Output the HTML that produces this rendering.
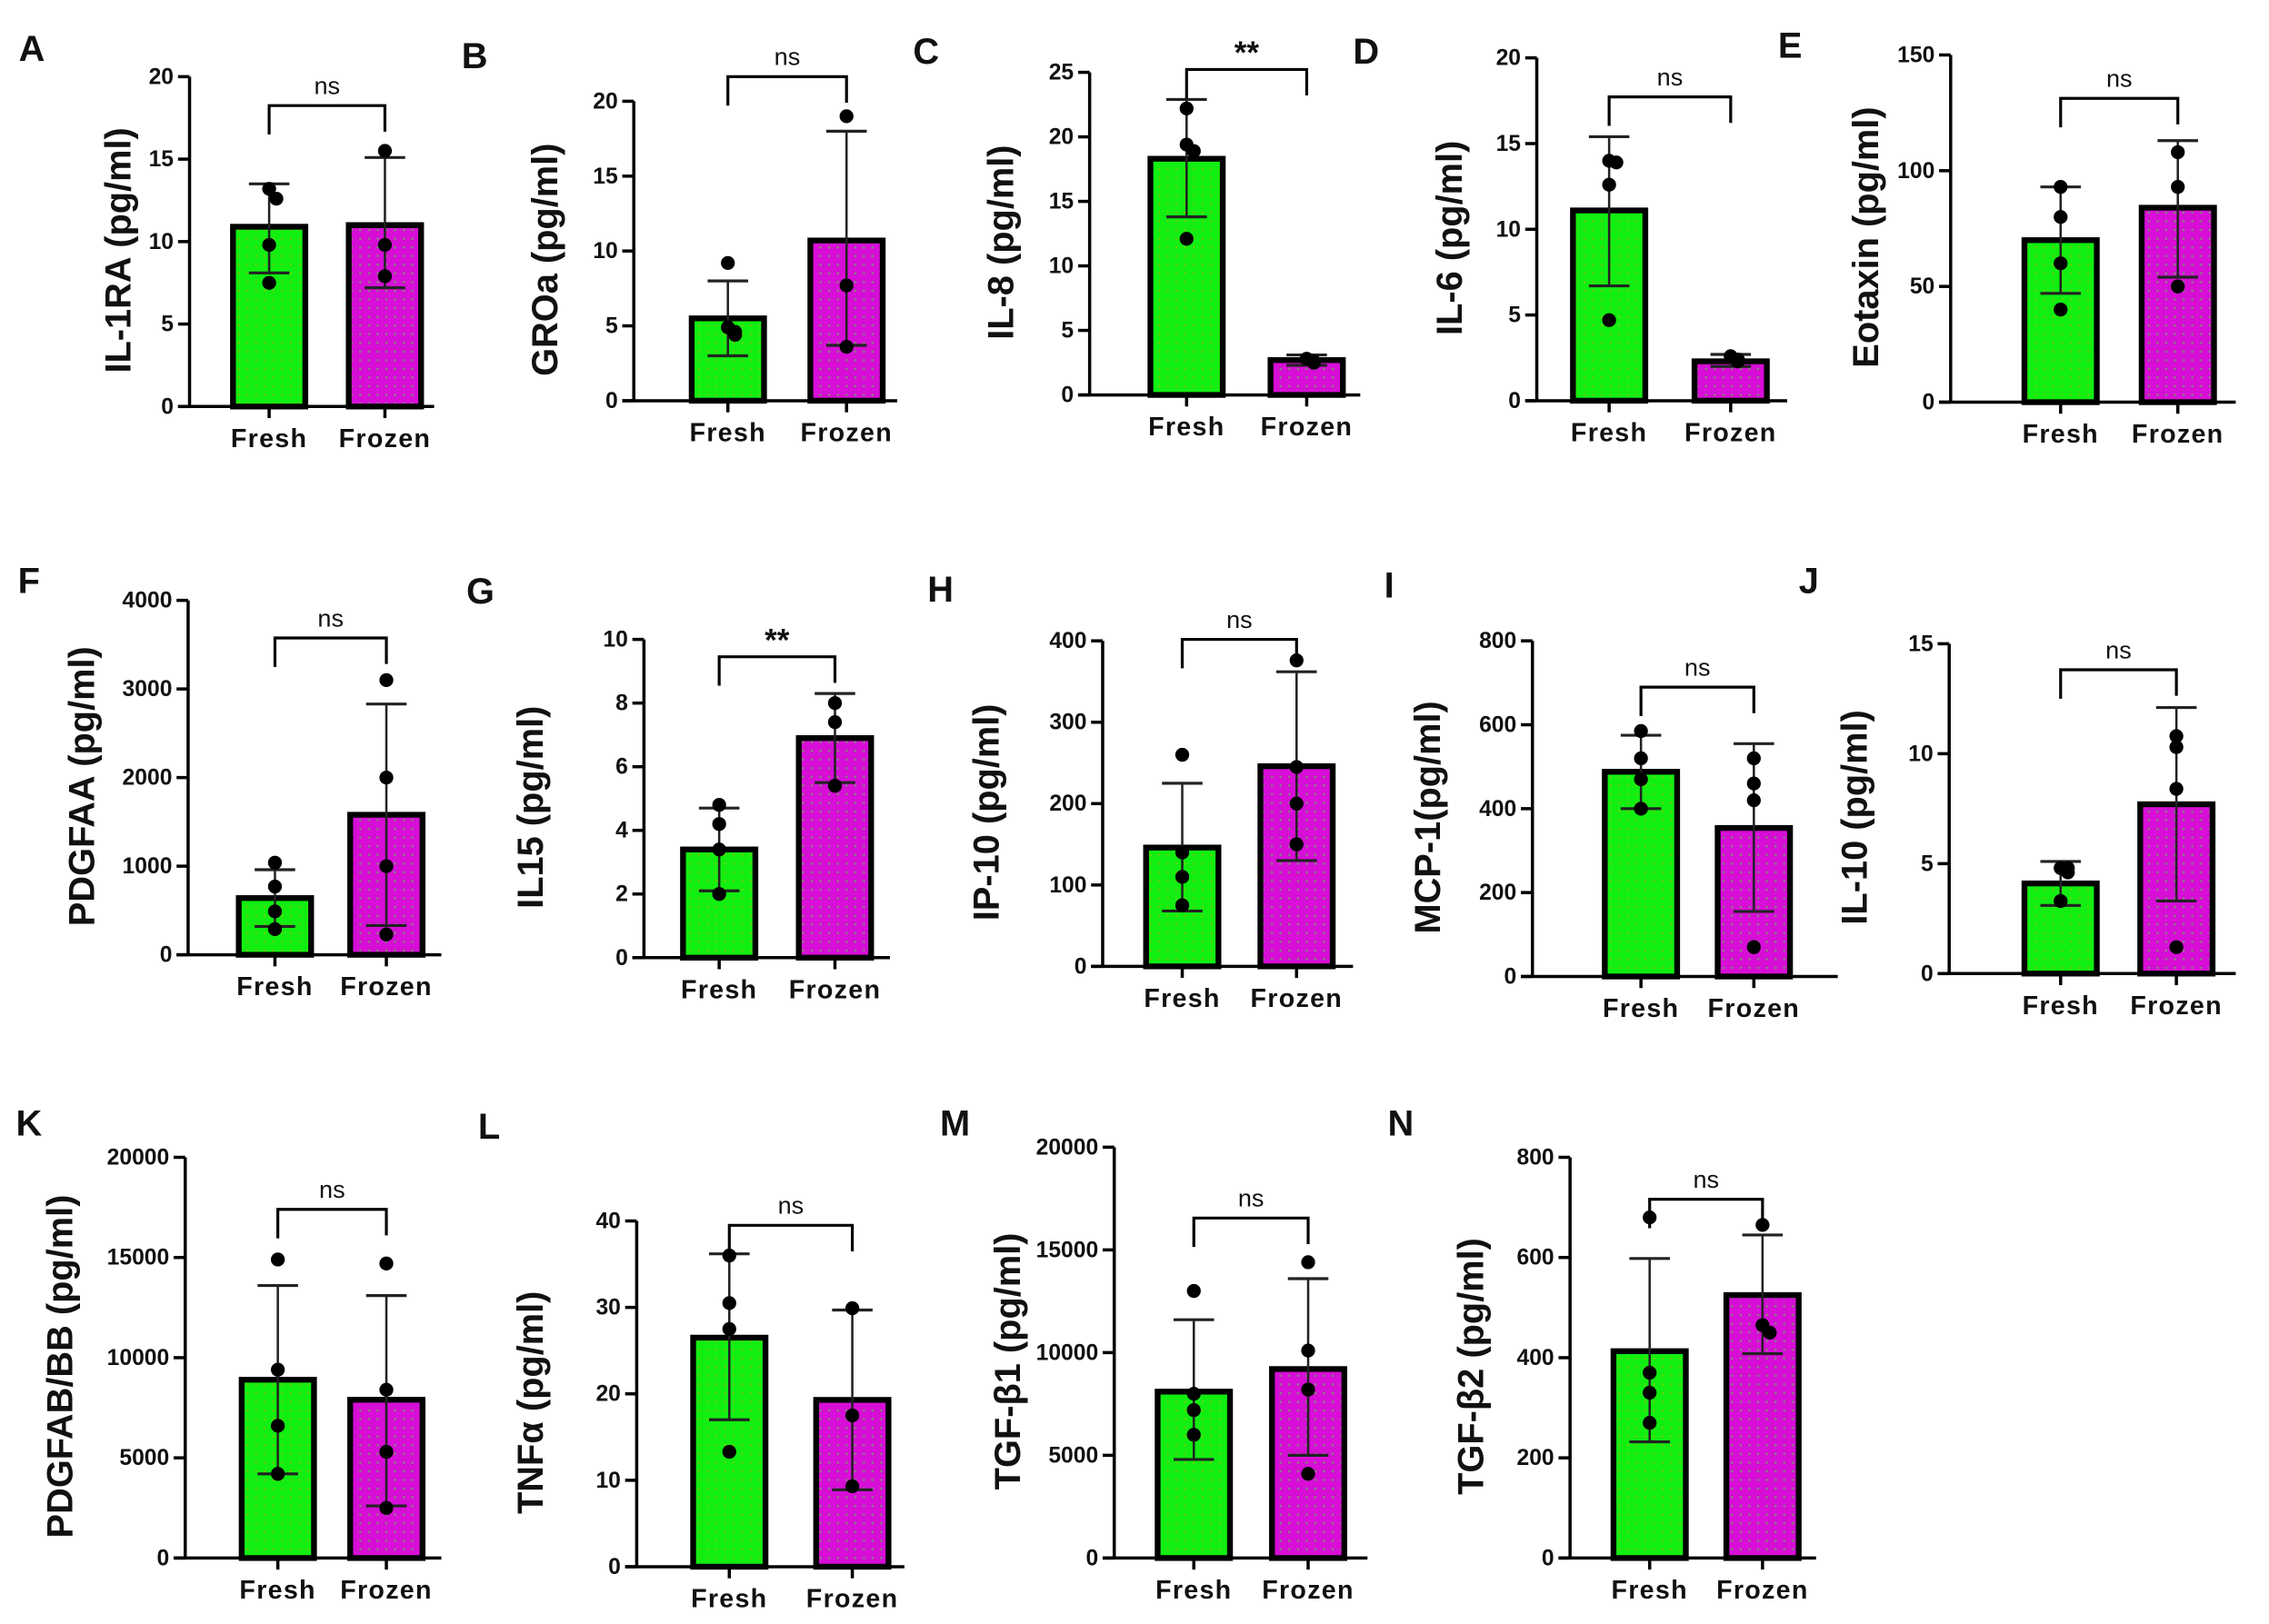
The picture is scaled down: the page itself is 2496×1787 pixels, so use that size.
<!DOCTYPE html>
<html><head><meta charset="utf-8"><style>
html,body{margin:0;padding:0;background:#fff}
svg{display:block}
text{font-family:"Liberation Sans",sans-serif;font-weight:bold;fill:#111}
</style></head><body>
<svg id="fig" xmlns="http://www.w3.org/2000/svg" width="2496" height="1787" viewBox="0 0 1568 1122.6" preserveAspectRatio="none">
<defs>
<pattern id="dotG" width="6" height="6" patternUnits="userSpaceOnUse"><rect width="6" height="6" fill="#12ee12"/><circle cx="3" cy="3" r="0.7" fill="#c8b000" opacity="0.6"/></pattern>
<pattern id="dotM" width="6" height="6" patternUnits="userSpaceOnUse"><rect width="6" height="6" fill="#d60ed6"/><circle cx="3" cy="3" r="0.8" fill="#6fa060" opacity="0.8"/></pattern>
</defs>
</svg>
<script>
const panelLetters=["A","B","C","D","E","F","G","H","I","J","K","L","M","N"];
const yTitles=["IL-1RA (pg/ml)","GROa (pg/ml)","IL-8 (pg/ml)","IL-6 (pg/ml)","Eotaxin (pg/ml)","PDGFAA (pg/ml)","IL15 (pg/ml)","IP-10 (pg/ml)","MCP-1(pg/ml)","IL-10 (pg/ml)","PDGFAB/BB (pg/ml)","TNFα (pg/ml)","TGF-β1 (pg/ml)","TGF-β2 (pg/ml)"];
const yMax=[20,20,25,20,150,4000,10,400,800,15,20000,40,20000,800];
const yStep=[5,5,5,5,50,1000,2,100,200,5,5000,10,5000,200];
const freshMean=[10.9,5.5,18.3,11.1,70,640,3.4,146,488,4.1,8900,26.5,8100,413];
const freshLo=[8.1,3.0,13.8,6.7,47,320,2.1,68,400,3.1,4200,17,4800,232];
const freshHi=[13.5,8.0,22.9,15.4,93,960,4.7,225,575,5.1,13600,36.2,11600,598];
const frozenMean=[11.0,10.7,2.7,2.3,84,1580,6.9,246,354,7.7,7900,19.3,9200,525];
const frozenLo=[7.2,3.7,2.3,2.0,54,330,5.5,130,155,3.3,2600,8.9,5000,408];
const frozenHi=[15.1,18.0,3.1,2.7,113,2830,8.3,362,555,12.1,13100,29.7,13600,645];
const freshPts=[[13.2,12.6,9.8,7.5],[9.2,4.9,4.6,4.4],[22.2,19.4,18.9,12.1],[14.0,13.9,12.6,4.7],[93,80,60,40],[1040,770,490,290],[4.8,4.2,3.4,2.0],[260,140,110,75],[585,520,470,400],[4.8,4.8,4.6,3.3],[14900,9400,6600,4200],[36,30.5,27.5,13.3],[13000,8000,7200,6000],[680,370,330,270]];
const frozenPts=[[15.5,9.8,7.9],[19,7.7,3.6],[2.8,2.6,2.5],[2.6,2.4,2.3],[108,93,50],[3100,2000,1000,230],[8.0,7.4,5.4],[376,245,200,150],[520,460,420,70],[10.8,10.3,8.4,1.2],[14700,8400,5300,2500],[29.9,17.5,9.3],[14400,10100,8200,4100],[665,465,450]];
const sigLabels=["ns","ns","**","ns","ns","ns","**","ns","ns","ns","ns","ns","ns","ns"];
const L=[
 {ax:131,y0:281,yt:53,c1:186,c2:266,br:73,lx:22,ly:42,tx:90,xe:300},
 {ax:438,y0:277,yt:70,c1:503,c2:585,br:53,lx:328,ly:47,tx:385,xe:620},
 {ax:753,y0:273,yt:50,c1:820,c2:903,br:48,lx:640,ly:44,tx:700,xe:940},
 {ax:1062,y0:277,yt:40,c1:1112,c2:1196,br:67,lx:944,ly:44,tx:1010,xe:1235},
 {ax:1348,y0:278,yt:38,c1:1424,c2:1505,br:68,lx:1237,ly:40,tx:1298,xe:1545},
 {ax:130,y0:660,yt:415,c1:190,c2:267,br:441,lx:20,ly:410,tx:65,xe:305},
 {ax:445,y0:662,yt:442,c1:497,c2:577,br:454,lx:332,ly:417,tx:375,xe:615},
 {ax:762,y0:668,yt:443,c1:817,c2:896,br:442,lx:650,ly:416,tx:690,xe:935},
 {ax:1059,y0:675,yt:443,c1:1134,c2:1212,br:475,lx:960,ly:413,tx:995,xe:1270},
 {ax:1347,y0:673,yt:445,c1:1424,c2:1504,br:463,lx:1250,ly:410,tx:1290,xe:1545},
 {ax:128,y0:1077,yt:800,c1:192,c2:267,br:836,lx:20,ly:785,tx:50,xe:305},
 {ax:440,y0:1083,yt:844,c1:504,c2:589,br:847,lx:338,ly:787,tx:375,xe:625},
 {ax:770,y0:1077,yt:793,c1:825,c2:904,br:842,lx:660,ly:785,tx:705,xe:945},
 {ax:1085,y0:1077,yt:800,c1:1140,c2:1218,br:829,lx:968,ly:785,tx:1025,xe:1255}
];
const NS="http://www.w3.org/2000/svg";
const svg=document.getElementById("fig");
function mk(tag,attrs,parent){const e=document.createElementNS(NS,tag);for(const k in attrs)e.setAttribute(k,attrs[k]);(parent||svg).appendChild(e);return e;}
for(let i=0;i<14;i++){
 const p=L[i];
 const g=mk("g",{});
 
 
 const y=v=>p.y0-(v/yMax[i])*(p.y0-p.yt);
 const lt=mk("text",{x:p.lx,y:p.ly,"font-size":25,"text-anchor":"middle"},g);lt.textContent=panelLetters[i];
 
 
 const tt=mk("text",{x:0,y:0,"font-size":25,"text-anchor":"middle",transform:`translate(${p.tx},${(p.y0+p.yt)/2+6}) rotate(-90)`},g);tt.textContent=yTitles[i];
 
 
 const bw=50;
 [[p.c1,freshMean[i],"url(#dotG)","bar-fresh"],[p.c2,frozenMean[i],"url(#dotM)","bar-frozen"]].forEach(b=>{
  const r=mk("rect",{x:b[0]-bw/2,y:y(b[1]),width:bw,height:p.y0-y(b[1]),fill:b[2],stroke:"#000","stroke-width":4},g);
  
  
 });
 [[p.c1,freshLo[i],freshHi[i]],[p.c2,frozenLo[i],frozenHi[i]]].forEach(e=>{
  const eg=mk("g",{stroke:"#222","stroke-width":1.6},g);
  
  
  mk("line",{x1:e[0],x2:e[0],y1:y(e[1]),y2:y(e[2])},eg);
  mk("line",{x1:e[0]-14,x2:e[0]+14,y1:y(e[1]),y2:y(e[1]),"stroke-width":2},eg);
  mk("line",{x1:e[0]-14,x2:e[0]+14,y1:y(e[2]),y2:y(e[2]),"stroke-width":2},eg);
 });
 [[p.c1,freshPts[i]],[p.c2,frozenPts[i]]].forEach(s=>{
  s[1].forEach((v,j)=>{
   const off=j>0&&Math.abs(v-s[1][j-1])<(yMax[i]*0.03)?5:0;
   const c=mk("circle",{cx:s[0]+off,cy:y(v),r:4.8,fill:"#000"},g);
   
   
  });
 });
 const ax=mk("g",{stroke:"#000","stroke-width":2.2,fill:"none"},g);
 
 
 mk("line",{x1:p.ax,x2:p.ax,y1:p.yt,y2:p.y0},ax);
 mk("line",{x1:p.ax-8,x2:p.xe,y1:p.y0,y2:p.y0},ax);
 mk("line",{x1:p.c1,x2:p.c1,y1:p.y0,y2:p.y0+8},ax);
 mk("line",{x1:p.c2,x2:p.c2,y1:p.y0,y2:p.y0+8},ax);
 for(let v=0;v<=yMax[i]+1e-9;v+=yStep[i]){
  mk("line",{x1:p.ax-8,x2:p.ax,y1:y(v),y2:y(v)},ax);
  const t=mk("text",{x:p.ax-11,y:y(v)+5,"font-size":15.5,"text-anchor":"end"},g);t.textContent=v;
  
  
 }
 [["Fresh",p.c1],["Frozen",p.c2]].forEach(c=>{
  const t=mk("text",{x:c[1],y:p.y0+28,"font-size":18,"letter-spacing":"0.8","text-anchor":"middle"},g);t.textContent=c[0];
  
  
 });
 const bk=mk("path",{d:`M${p.c1},${p.br+20} V${p.br} H${p.c2} V${p.br+18}`,stroke:"#000","stroke-width":2,fill:"none"},g);
 
 
 const st=mk("text",{x:(p.c1+p.c2)/2,y:p.br-(sigLabels[i]=="**"?4:8),"font-size":sigLabels[i]=="**"?22:17,"text-anchor":"middle"},g);
 st.textContent=sigLabels[i];
 
 
 if(sigLabels[i]!="**")st.style.fontWeight="normal";
}
</script>
</body></html>
